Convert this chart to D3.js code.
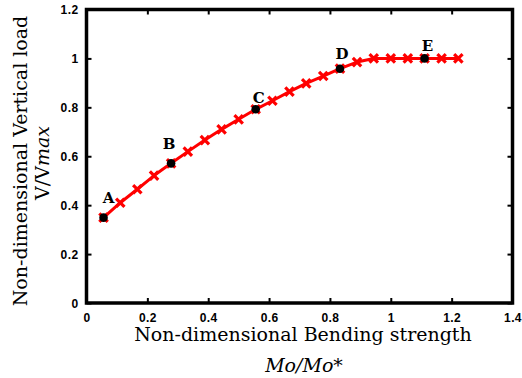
<!DOCTYPE html>
<html>
<head>
<meta charset="utf-8">
<script src="https://cdn.jsdelivr.net/npm/d3@7"></script>
<style>
html,body{margin:0;padding:0;background:#fff;}
svg{display:block;}
</style>
</head>
<body>
<svg id="chart" width="522" height="378"></svg>
<script>
// ---- data ----
const bendingStrength = [0.056, 0.111, 0.167, 0.222, 0.278, 0.333, 0.389, 0.444, 0.5, 0.556, 0.611,
  0.667, 0.722, 0.778, 0.833, 0.889, 0.944, 1.0, 1.056, 1.111, 1.167, 1.222];
const verticalLoad = [0.349, 0.410, 0.465, 0.521, 0.571, 0.619, 0.666, 0.710, 0.751, 0.792, 0.827,
  0.864, 0.898, 0.928, 0.958, 0.985, 1.0, 1.0, 1.0, 1.0, 1.0, 1.0];
const keyLabels = ["A", "B", "C", "D", "E"];
const keyIndex = [0, 4, 9, 14, 19];
const xTicks = [0, 0.2, 0.4, 0.6, 0.8, 1, 1.2, 1.4];
const yTicks = [0, 0.2, 0.4, 0.6, 0.8, 1, 1.2];

// ---- layout ----
const L = 86.5, R = 512.5, T = 9.5, B = 303;
const svg = d3.select("#chart");
const x = d3.scaleLinear().domain([0, 1.4]).range([L, R]);
const y = d3.scaleLinear().domain([0, 1.2]).range([B, T]);
const pts = bendingStrength.map((v, i) => [v, verticalLoad[i]]);

// inward ticks on four sides
const tickLen = 5;
const tickFmt = d => d === 0 ? "0" : d3.format("~g")(d);
const tickFont = g => g.attr("font-family", "Liberation Sans, Arial, sans-serif").attr("font-weight", "bold")
  .attr("font-size", 12).attr("fill", "#000").attr("letter-spacing", 0.4);
svg.append("g").attr("transform", `translate(0,${B})`)
  .call(d3.axisBottom(x).tickValues(xTicks).tickSizeInner(-tickLen).tickSizeOuter(0).tickFormat(tickFmt))
  .call(g => g.select(".domain").remove())
  .call(g => g.selectAll("line").attr("stroke", "#000").attr("stroke-width", 2))
  .call(g => g.selectAll("text").attr("y", 18.5).attr("dy", 0).call(tickFont));
svg.append("g").attr("transform", `translate(0,${T})`)
  .call(d3.axisTop(x).tickValues(xTicks).tickSizeInner(-tickLen).tickSizeOuter(0).tickFormat(""))
  .call(g => g.select(".domain").remove())
  .call(g => g.selectAll("line").attr("stroke", "#000").attr("stroke-width", 2));
svg.append("g").attr("transform", `translate(${L},0)`)
  .call(d3.axisLeft(y).tickValues(yTicks).tickSizeInner(-tickLen).tickSizeOuter(0).tickFormat(tickFmt))
  .call(g => g.select(".domain").remove())
  .call(g => g.selectAll("line").attr("stroke", "#000").attr("stroke-width", 2))
  .call(g => g.selectAll("text").attr("x", -8).attr("dy", "0.36em").call(tickFont));
svg.append("g").attr("transform", `translate(${R},0)`)
  .call(d3.axisRight(y).tickValues(yTicks).tickSizeInner(-tickLen).tickSizeOuter(0).tickFormat(""))
  .call(g => g.select(".domain").remove())
  .call(g => g.selectAll("line").attr("stroke", "#000").attr("stroke-width", 2));

// frame
svg.append("rect").attr("x", L).attr("y", T).attr("width", R - L).attr("height", B - T)
  .attr("fill", "none").attr("stroke", "#000").attr("stroke-width", 3.5);

// line
const line = d3.line().x(d => x(d[0])).y(d => y(d[1]));
svg.append("path").datum(pts).attr("d", line)
  .attr("fill", "none").attr("stroke", "#ff0000").attr("stroke-width", 3).attr("stroke-linejoin", "round");

// x markers
const s = 4.2;
svg.append("g").selectAll("path.mk").data(pts).join("path")
  .attr("class", "mk")
  .attr("d", d => {
    const cx = x(d[0]), cy = y(d[1]);
    return `M${cx - s},${cy - s}L${cx + s},${cy + s}M${cx - s},${cy + s}L${cx + s},${cy - s}`;
  })
  .attr("stroke", "#ff0000").attr("stroke-width", 3.2).attr("fill", "none");

// key points
const keyPts = keyIndex.map(i => pts[i]);
svg.append("g").selectAll("circle").data(keyPts).join("circle")
  .attr("cx", d => x(d[0])).attr("cy", d => y(d[1])).attr("r", 4.3).attr("fill", "#000");

const labelOffset = [[5, -15], [-2, -14], [3, -6], [2, -10], [3, -7]];
svg.append("g").selectAll("text").data(keyPts).join("text")
  .attr("x", (d, i) => x(d[0]) + labelOffset[i][0])
  .attr("y", (d, i) => y(d[1]) + labelOffset[i][1])
  .attr("text-anchor", "middle")
  .attr("font-family", "DejaVu Serif, serif").attr("font-weight", "bold").attr("font-size", 15)
  .text((d, i) => keyLabels[i]);

// axis titles
const serif = "DejaVu Serif, serif";
svg.append("text").attr("x", 303).attr("y", 341).attr("text-anchor", "middle")
  .attr("font-family", serif).attr("font-size", 19).text("Non-dimensional Bending strength");
svg.append("text").attr("x", 304).attr("y", 372).attr("text-anchor", "middle")
  .attr("font-family", serif).attr("font-size", 19).attr("font-style", "italic").text("Mo/Mo*");

svg.append("text").attr("transform", "translate(27,161) rotate(-90)").attr("text-anchor", "middle")
  .attr("font-family", serif).attr("font-size", 19).text("Non-dimensional Vertical load");
const t2 = svg.append("text").attr("transform", "translate(49,163) rotate(-90)").attr("text-anchor", "middle")
  .attr("font-family", serif).attr("font-size", 19);
t2.append("tspan").text("V/V");
t2.append("tspan").attr("font-style", "italic").text("max");
</script>
</body>
</html>
